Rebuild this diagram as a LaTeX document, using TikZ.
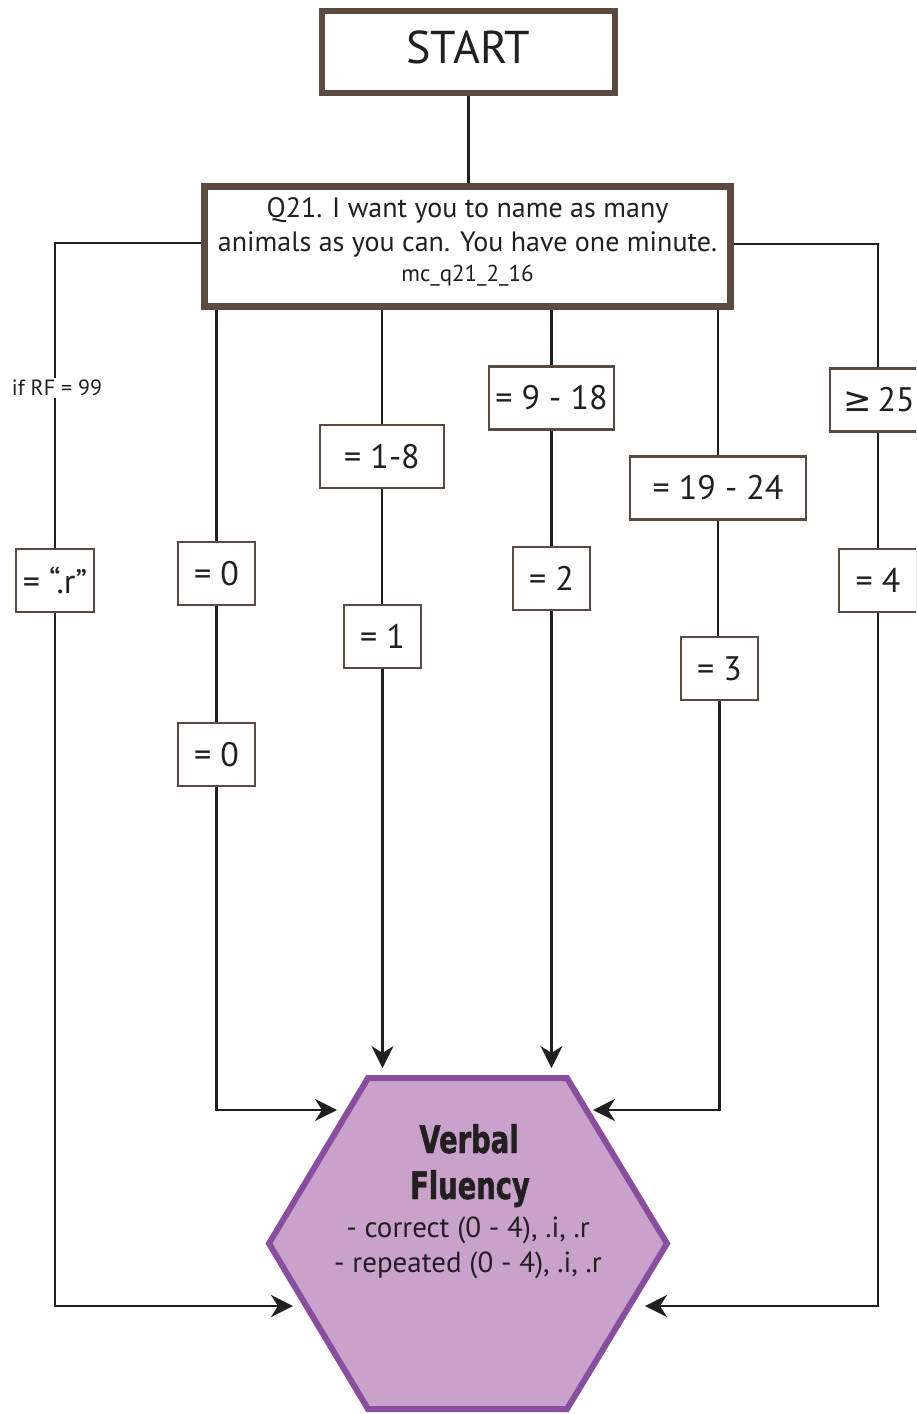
\documentclass[tikz,border=0pt]{standalone}
\usepackage{fontspec}
\setmainfont{PT Sans}
\newfontfamily\symfont{DejaVu Sans}
\newfontfamily\heavyfont[FakeStretch=0.72,FakeBold=1.2]{DejaVu Sans Bold}
\usetikzlibrary{arrows.meta}
\definecolor{boxbrown}{HTML}{5B4A42}
\definecolor{ink}{HTML}{231F20}
\definecolor{hexline}{HTML}{8A4E9F}
\definecolor{hexfill}{HTML}{C9A2CC}
\begin{document}
\begin{tikzpicture}[x=1pt,y=-1pt,
  bigbox/.style={draw=boxbrown, fill=white, inner sep=0pt, text=ink},
  smallbox/.style={draw=boxbrown, line width=2.5pt, fill=white, minimum height=63pt, inner sep=0pt, text=ink, font=\fontsize{34}{40}\selectfont},
  conn/.style={draw=ink, line width=2.2pt},
  arr/.style={conn, -{Stealth[length=22pt,width=22pt,inset=7pt]}},
  hextext/.style={anchor=base, text=ink, font=\fontsize{29}{34}\selectfont},
  hextitle/.style={anchor=base, text=ink, font=\heavyfont\fontsize{38}{40}\selectfont}
]
\useasboundingbox (0,0) rectangle (916,1414);
\clip (0,0) rectangle (916,1414);

% main boxes
\node[bigbox, line width=6pt, minimum width=293pt, minimum height=82pt, font=\fontsize{46}{50}\selectfont] (start) at (468.5,52) {\raisebox{9pt}{START}};
\node[bigbox, line width=7pt, minimum width=526pt, minimum height=120pt] (q21) at (467.5,246.5) {};
\node[align=center, inner sep=0pt, text=ink, font=\fontsize{28}{34}\selectfont] (q21t) at (467.5,242)
  {Q21. I want you to name as many\\ animals as you can. You have one minute.\\[-4pt] {\fontsize{23}{26}\selectfont mc\_q21\_2\_16}};

% answer boxes
\node[smallbox, minimum width=78pt] (dotr) at (55,580.5) {= “.r”};
\node[smallbox, minimum width=77pt] (z1) at (216.5,573.5) {= 0};
\node[smallbox, minimum width=77pt] (z2) at (216.5,754.5) {= 0};
\node[smallbox, minimum width=124pt] (r18) at (382,456.5) {= 1-8};
\node[smallbox, minimum width=77pt] (one) at (382.5,636.5) {= 1};
\node[smallbox, minimum width=125pt] (r918) at (551.5,398) {= 9 - 18};
\node[smallbox, minimum width=77pt] (two) at (551.5,578.5) {= 2};
\node[smallbox, minimum width=176pt] (r1924) at (718,488) {= 19 - 24};
\node[smallbox, minimum width=77pt] (three) at (719.5,668.5) {= 3};
\node[smallbox, minimum width=98pt] (ge25) at (879,400) {{\symfont ≥}\,25};
\node[smallbox, minimum width=78pt] (four) at (878,580.5) {= 4};

% corner coordinates
\coordinate (lc) at (55,243);
\coordinate (rc) at (878,244);
\coordinate (tipLL) at (293,1306);
\coordinate (tipLU) at (337,1110);
\coordinate (tipTL) at (382,1068);
\coordinate (tipTR) at (553,1068);
\coordinate (tipRU) at (593,1110);
\coordinate (tipRL) at (645,1306);

% connectors
\draw[conn] (start.south) -- (start.south |- q21.north);
\draw[conn] (q21.west |- lc) -- (lc) -- (dotr.north);
\draw[conn] (q21.east |- rc) -- (rc) -- (ge25.north -| rc);
\draw[conn] (z1.north |- q21.south) -- (z1.north);
\draw[conn] (z1.south) -- (z2.north);
\draw[conn] (r18.north |- q21.south) -- (r18.north);
\draw[conn] (r18.south) -- (one.north -| r18.south);
\draw[conn] (r918.north |- q21.south) -- (r918.north);
\draw[conn] (r918.south) -- (two.north -| r918.south);
\draw[conn] (r1924.north |- q21.south) -- (r1924.north);
\draw[conn] (r1924.south) -- (three.north -| r1924.south);
\draw[conn] (ge25.south -| rc) -- (four.north -| rc);

\node[fill=white, inner sep=2pt, text=ink, font=\fontsize{22}{25}\selectfont] (rf) at (57,388) {if RF = 99};

% hexagon
\draw[draw=hexline, line width=6pt, fill=hexfill, line join=miter]
  (368,1078) -- (567,1078) -- (667,1243.5) -- (567,1409) -- (368,1409) -- (269,1243.5) -- cycle;
\node[hextitle] (vf1) at (469,1153) {Verbal};
\node[hextitle] (vf2) at (470,1199) {Fluency};
\node[hextext] (vf3) at (468,1237) {- correct (0 - 4), .i, .r};
\node[hextext] (vf4) at (468,1272) {- repeated (0 - 4), .i, .r};

% arrows into hexagon
\draw[arr] (dotr.south) |- (tipLL);
\draw[arr] (z2.south) |- (tipLU);
\draw[arr] (one.south) -- (one.south |- tipTL);
\draw[arr] (two.south) -- (two.south |- tipTR);
\draw[arr] (three.south) |- (tipRU);
\draw[arr] (four.south) |- (tipRL);
\end{tikzpicture}
\end{document}
